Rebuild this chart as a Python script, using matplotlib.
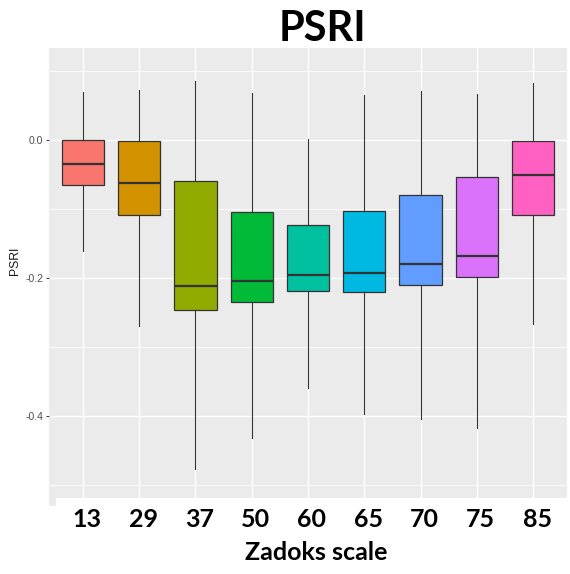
import matplotlib
matplotlib.use("Agg")
import matplotlib.pyplot as plt
import matplotlib.transforms as mtransforms
from matplotlib.patches import Rectangle
from matplotlib.ticker import FixedLocator

# PSRI summary per Zadoks growth stage
stages = ['13', '29', '37', '50', '60', '65', '70', '75', '85']
whisker_low = [-0.161, -0.270, -0.477, -0.432, -0.360, -0.397, -0.405, -0.417, -0.267]
q1 = [-0.065, -0.109, -0.246, -0.235, -0.219, -0.220, -0.210, -0.199, -0.108]
medians = [-0.035, -0.063, -0.211, -0.204, -0.196, -0.193, -0.180, -0.168, -0.050]
q3 = [0.000, -0.002, -0.059, -0.104, -0.123, -0.103, -0.080, -0.053, -0.002]
whisker_high = [0.069, 0.073, 0.086, 0.068, 0.001, 0.065, 0.071, 0.067, 0.082]

# ggplot2 default hue palette for 9 levels
colors = ['#F8766D', '#D39200', '#93AA00', '#00BA38', '#00C19F',
          '#00B9E3', '#619CFF', '#DB72FB', '#FF61C3']

W, H = 570, 574
fig = plt.figure(figsize=(W / 100, H / 100), dpi=100)
fig.patch.set_facecolor('white')

# panel in pixel coordinates
left, right, top, bottom = 49, 567, 48, 498
ax = fig.add_axes([left / W, 1 - bottom / H, (right - left) / W, (bottom - top) / H])
ax.set_facecolor('#EBEBEB')
for s in ax.spines.values():
    s.set_visible(False)

stats = []
for i in range(len(stages)):
    stats.append(dict(med=medians[i], q1=q1[i], q3=q3[i],
                      whislo=whisker_low[i], whishi=whisker_high[i], fliers=[]))
positions = list(range(1, len(stages) + 1))
bp = ax.bxp(stats, positions=positions, widths=0.75, patch_artist=True,
            showcaps=False, showfliers=False,
            boxprops=dict(edgecolor='#333333', linewidth=0.9),
            whiskerprops=dict(color='#333333', linewidth=0.8),
            medianprops=dict(color='#333333', linewidth=1.6))
for patch, c in zip(bp['boxes'], colors):
    patch.set_facecolor(c)
for artist in bp['boxes'] + bp['whiskers'] + bp['medians']:
    artist.set_zorder(3)

ax.set_xlim(0.4, 9.6)
ax.set_ylim(-(bottom - 140) / 690, (140 - top) / 690)

# grid
ax.set_yticks([0.0, -0.2, -0.4])
ax.yaxis.set_minor_locator(FixedLocator([0.1, -0.1, -0.3, -0.5]))
ax.grid(True, which='major', color='white', linewidth=1.0, zorder=0)
ax.grid(True, which='minor', axis='y', color='white', linewidth=0.55, zorder=0)
ax.set_axisbelow(True)

ax.set_yticklabels(['0.0', '-0.2', '-0.4'], fontsize=7.5, color='#4D4D4D',
                   family='Liberation Sans')
ax.tick_params(axis='y', which='major', length=2.5, width=0.7, color='#333333', pad=1.5)
ax.tick_params(axis='y', which='minor', length=0)

ax.set_xticks(positions)
ax.set_xticklabels(stages, fontsize=18, fontweight='bold', family='Lato')
ax.tick_params(axis='x', length=0, pad=21)
shift = mtransforms.ScaledTranslation(4 / 100, 0, fig.dpi_scale_trans)
for lab in ax.get_xticklabels():
    lab.set_va('baseline')
    lab.set_transform(lab.get_transform() + shift)

ax.set_ylabel('PSRI', fontsize=8.7, family='Liberation Sans', color='#1A1A1A')
ax.yaxis.set_label_coords(15 / W, 1 - 261 / H, transform=fig.transFigure)
ax.yaxis.label.set_va('center')

ax.set_xlabel('Zadoks scale', fontsize=18, fontweight='bold', family='Lato')
ax.xaxis.set_label_coords(316 / W, 1 - 560 / H, transform=fig.transFigure)
ax.xaxis.label.set_va('baseline')

fig.text(322 / W, 1 - 41 / H, 'PSRI', fontsize=30, fontweight='bold',
         family='Lato', ha='center', va='baseline')

# small strip of panel left uncovered below the axis labels
fig.add_artist(Rectangle((left / W, 1 - 506 / H), 7 / W, 8 / H,
                         transform=fig.transFigure, facecolor='#EBEBEB',
                         edgecolor='none'))

fig.savefig('out.png', dpi=100)
